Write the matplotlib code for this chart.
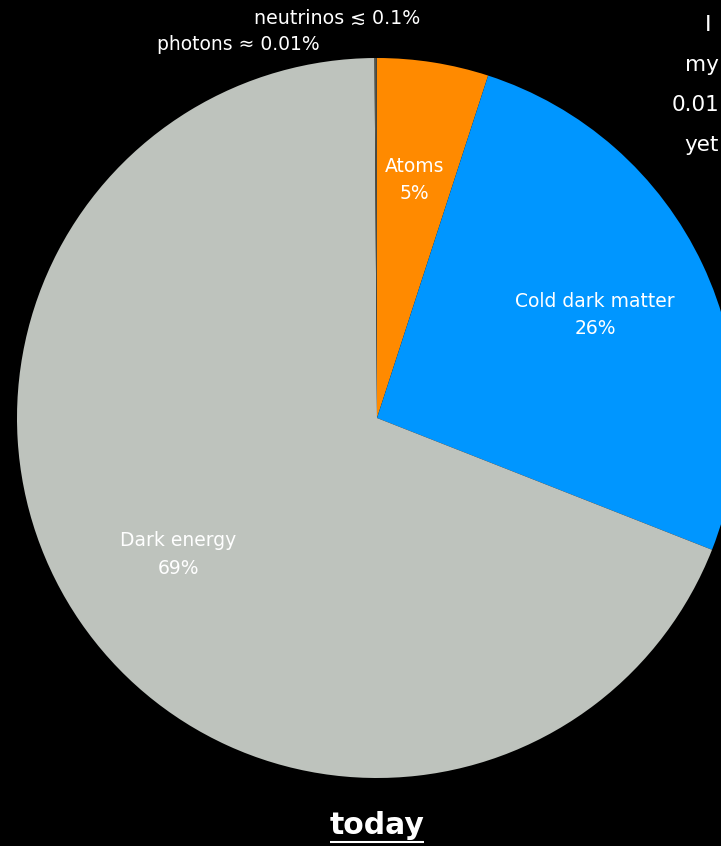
import matplotlib.pyplot as plt

# energy budget of the universe today, clockwise from the top
components = ['Atoms', 'Cold dark matter', 'Dark energy', 'neutrinos', 'photons']
shares = [5, 26, 69, 0.1, 0.01]
share_labels = ['5%', '26%', '69%', '', '']
colors = ['#ff8a00', '#0096ff', '#bec3bd', '#55554c', '#55554c']

side_lines = ['I', 'my', '0.01', 'yet']

W, H = 721, 846
fig = plt.figure(figsize=(W / 100, H / 100), dpi=100, facecolor='black')
ax = fig.add_axes([0, 0, 1, 1])
ax.set_facecolor('black')

labels = ['{}\n{}'.format(c, s) if s else '' for c, s in zip(components, share_labels)]
wedges, texts = ax.pie(shares, colors=colors, startangle=90, counterclock=False,
                       center=(377, H - 418), radius=360, frame=True,
                       labels=labels, labeldistance=0.67,
                       wedgeprops=dict(linewidth=0),
                       textprops=dict(color='white', fontsize=13.5, linespacing=1.55))
for t in texts:
    t.set_ha('center')
    t.set_va('center')

ax.set_xlim(0, W)
ax.set_ylim(0, H)
ax.set_aspect('equal')
ax.axis('off')

ax.text(337, H - 18, 'neutrinos \u2272 0.1%', color='white', fontsize=13.7, ha='center', va='center')
ax.text(238, H - 44, 'photons \u2248 0.01%', color='white', fontsize=13.5, ha='center', va='center')

# note running off the right edge
ax.text(705, H - 25, side_lines[0], color='white', fontsize=16, ha='left', va='center')
for i, word in enumerate(side_lines[1:], start=1):
    ax.text(719, H - 25 - 40 * i, word, color='white', fontsize=15.5, ha='right', va='center')

ax.text(377, H - 826, 'today', color='white', fontsize=21.5, fontweight='bold',
        ha='center', va='center')
ax.plot([330, 424], [H - 842, H - 842], color='white', linewidth=1.5, solid_capstyle='butt')

fig.savefig('out.png', dpi=100, facecolor='black')
